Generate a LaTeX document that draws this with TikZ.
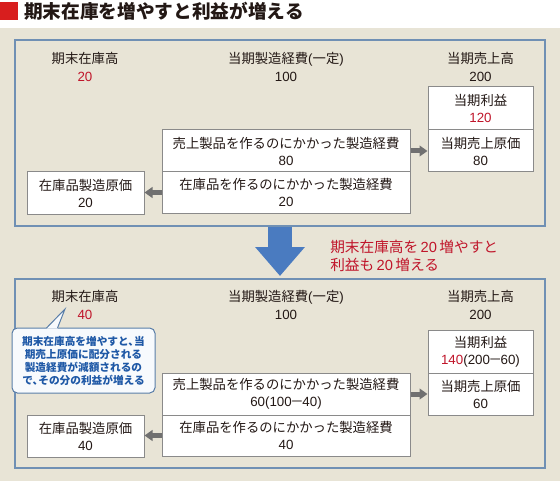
\documentclass[tikz,border=0pt]{standalone}
\usepackage{fontspec}
\setmainfont{Noto Sans CJK JP}
\newfontfamily\numf{Liberation Sans}
\usetikzlibrary{arrows.meta,calc}
\definecolor{bg}{HTML}{E8E4D6}
\definecolor{frameblue}{HTML}{7090B4}
\definecolor{boxgray}{HTML}{8A8A8A}
\definecolor{arrowgray}{HTML}{707070}
\definecolor{bigblue}{HTML}{4A7BC0}
\definecolor{numred}{HTML}{C0152A}
\definecolor{txt}{HTML}{231815}
\definecolor{coblue}{HTML}{1E58A6}
\definecolor{coborder}{HTML}{5A7EA8}
\definecolor{cofill}{HTML}{F7FAFD}
\definecolor{titlered}{HTML}{D81E1E}
\newcommand{\nm}[1]{{\numf #1}}
\tikzset{
  hd/.style={inner sep=0, align=center, text=txt, font=\fontsize{10}{13.5}\selectfont},
  bx/.style={draw=boxgray, line width=0.75pt, fill=white, inner sep=0, align=center, text=txt,
    font=\fontsize{10}{12.75}\selectfont, minimum height=31.5pt},
  frm/.style={draw=frameblue, line width=1.5pt, inner sep=0, minimum width=397.5pt},
  garrow/.style={draw=arrowgray, line width=3.75pt, -{Triangle[length=6pt,width=8pt]}},
  bigarrow/.style={draw=bigblue, line width=18pt, -{Triangle[length=21.75pt,width=36pt]}},
  cobox/.style={draw=coborder, line width=0.75pt, fill=cofill, rounded corners=4pt, inner sep=0,
    align=center, text=coblue, font=\bfseries\fontsize{8}{9.75}\selectfont,
    minimum width=107.25pt, minimum height=48.75pt}
}
\begin{document}
\begin{tikzpicture}[x=0.75pt,y=-0.75pt]
\useasboundingbox (0,0) rectangle (560,481);
\fill[white] (0,0) rectangle (560,28);
\fill[bg] (0,28) rectangle (560,481);
% title
\fill[titlered] (0,2) rectangle (18,20);
\node[anchor=west, inner sep=0, text=txt, font=\bfseries\fontsize{14}{16}\selectfont] (title) at (24,11) {期末在庫を増やすと利益が増える};

% panels
\node[frm, minimum height=139.5pt] (p1) at (280,133) {};
\node[frm, minimum height=141.75pt] (p2) at (280,373.5) {};
\draw[bigarrow, shorten >=1.5pt] (p1.south) -- (p2.north);
\node[frm, minimum height=139.5pt] at (280,133) {};

% top panel
\node[hd] (h1a) at (85,67) {期末在庫高\\\textcolor{numred}{\nm{20}}};
\node[hd] (h1b) at (286,67) {当期製造経費\nm{(}一定\nm{)}\\\nm{100}};
\node[hd] (h1c) at (480.5,67) {当期売上高\\\nm{200}};
\node[bx, minimum width=78.75pt, minimum height=32.25pt] (pr1) at (480.5,108.5) {当期利益\\\textcolor{numred}{\nm{120}}};
\node[bx, minimum width=78.75pt] (cs1) at (480.5,151) {当期売上原価\\\nm{80}};
\node[bx, minimum width=186pt] (ma1) at (286,151) {売上製品を作るのにかかった製造経費\\\nm{80}};
\node[bx, minimum width=186pt, minimum height=30.75pt] (mb1) at (286,192.5) {在庫品を作るのにかかった製造経費\\\nm{20}};
\node[bx, minimum width=87.75pt] (lf1) at (85.5,193) {在庫品製造原価\\\nm{20}};
\draw[garrow] (ma1.east) -- (cs1.west);
\draw[garrow] (mb1.west) -- (mb1.west -| lf1.east);

% annotation
\node[anchor=west, inner sep=0, align=left, text=numred, font=\fontsize{11}{13.5}\selectfont] (note) at (330,256) {期末在庫高を\,\nm{20}\,増やすと\\利益も\,\nm{20}\,増える};

% bottom panel
\node[hd] (h2a) at (85,305) {期末在庫高\\\textcolor{numred}{\nm{40}}};
\node[hd] (h2b) at (286,305) {当期製造経費\nm{(}一定\nm{)}\\\nm{100}};
\node[hd] (h2c) at (480.5,305) {当期売上高\\\nm{200}};
\node[bx, minimum width=78.75pt, minimum height=32.25pt] (pr2) at (480.5,351.5) {当期利益\\\textcolor{numred}{\nm{140}}\nm{(200}\hspace{-0.1em}－\hspace{-0.1em}\nm{60)}};
\node[bx, minimum width=78.75pt] (cs2) at (480.5,394) {当期売上原価\\\nm{60}};
\node[bx, minimum width=186pt] (ma2) at (286,394) {売上製品を作るのにかかった製造経費\\\nm{60(100}\hspace{-0.1em}－\hspace{-0.1em}\nm{40)}};
\node[bx, minimum width=186pt, minimum height=30.75pt] (mb2) at (286,435.5) {在庫品を作るのにかかった製造経費\\\nm{40}};
\node[bx, minimum width=87.75pt] (lf2) at (85.5,436) {在庫品製造原価\\\nm{40}};
\draw[garrow] (ma2.east) -- (cs2.west);
\draw[garrow] (mb2.west) -- (mb2.west -| lf2.east);

% callout
\node[cobox] (co) at (83.5,360.5) {期末在庫高を増やすと、\hspace{-0.45em}当\\期売上原価に配分される\\製造経費が減額されるの\\で、\hspace{-0.45em}その分の利益が増える};
\coordinate (tip) at (65,309);
\fill[cofill] ($(co.north west)+(35,1.2)$) -- (tip) -- ($(co.north west)+(46,1.2)$) -- cycle;
\draw[coborder, line width=0.75pt, line join=miter] ($(co.north west)+(35,0.5)$) -- (tip) -- ($(co.north west)+(46,0.5)$);
\end{tikzpicture}
\end{document}
